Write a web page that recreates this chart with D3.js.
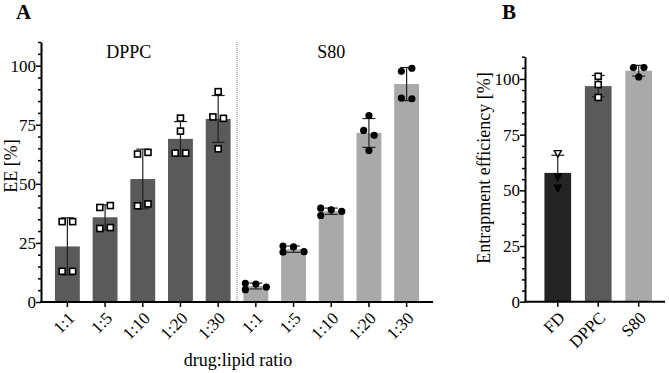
<!DOCTYPE html>
<html>
<head>
<meta charset="utf-8">
<script src="https://cdn.jsdelivr.net/npm/d3@7"></script>
</head>
<body style="margin:0; background:#fff">
<div id="chartDiv"></div>
<script>

var ratios = ["1:1", "1:5", "1:10", "1:20", "1:30"];
var lipids = ["DPPC", "S80"];

// individual replicates, EE [%]
var dppcValues = [
    [34, 34, 13, 13],
    [40, 40.8, 31.1, 31.5],
    [62.6, 63.3, 40.7, 41.5],
    [77.8, 72.3, 63, 63],
    [89, 78.3, 77.7, 64.8]
];
var s80Values = [
    [7.9, 7.6, 6.35, 5.2],
    [23.7, 23.3, 21.3, 21.1],
    [39.7, 39, 38.3, 36.6],
    [78.9, 72.6, 70.5, 64.1],
    [97.6, 98.9, 86.3, 86.0]
];

var formulations = ["FD", "DPPC", "S80"];
var entrapmentValues = [
    [66.5, 56, 51],
    [101.2, 97.5, 91.7],
    [105.1, 105.1, 100.9]
];

var yTicks = [0, 25, 50, 75, 100];
var yMax = 110;

var colors = { FD: "#242424", DPPC: "#5a5a5a", S80: "#a9a9a9" };

var svg = d3.select("#chartDiv").append("svg")
    .attr("width", 669)
    .attr("height", 373);

// place replicates side by side when they would overlap (graphpad-like scatter)
function swarm(values, y, spacing) {
    var order = d3.range(values.length).sort(function (a, b) {
        return values[b] - values[a];
    });
    var placed = [];
    var offsets = [];
    var i = 0;
    while (i < order.length) {
        var top = y(values[order[i]]);
        var row = [];
        while (i < order.length && y(values[order[i]]) - top < 6) {
            row.push(order[i]);
            i++;
        }
        row.sort(d3.ascending);
        row.forEach(function (idx, k) {
            var base = (k - (row.length - 1) / 2) * spacing;
            var py = y(values[idx]);
            var tries = [base, base - spacing, base + spacing, base - 2 * spacing, base + 2 * spacing];
            var dx = tries.find(function (t) {
                return !placed.some(function (p) {
                    return Math.abs(p.dx - t) < spacing * 0.8 && Math.abs(p.y - py) < 6;
                });
            });
            placed.push({ dx: dx, y: py });
            offsets[idx] = dx;
        });
    }
    return offsets;
}

function drawMarker(g, shape, cx, cy, hollow) {
    if (shape == "square") {
        g.append("rect")
            .attr("x", cx - 3)
            .attr("y", cy - 3)
            .attr("width", 6)
            .attr("height", 6)
            .attr("fill", "#fff")
            .attr("stroke", "#000")
            .attr("stroke-width", 1.6);
    } else if (shape == "circle") {
        g.append("circle")
            .attr("cx", cx)
            .attr("cy", cy)
            .attr("r", 3.6)
            .attr("fill", "#000");
    } else {
        g.append("path")
            .attr("d", "M" + (cx - 3.5) + "," + (cy - 3) + "L" + (cx + 3.5) + "," + (cy - 3) + "L" + cx + "," + (cy + 3.5) + "Z")
            .attr("fill", hollow ? "#fff" : "#000")
            .attr("stroke", "#000")
            .attr("stroke-width", 1.4);
    }
}

function drawPanel(opts) {

    var x = opts.x, y = opts.y;

    var g = svg.append("g");

    opts.groups.forEach(function (grp, i) {
        var key = opts.keys[i];
        var mean = d3.mean(grp.values);
        var sd = d3.deviation(grp.values);
        var cx = x(key) + x.bandwidth() / 2;

        g.append("rect")
            .attr("x", x(key))
            .attr("width", x.bandwidth())
            .attr("y", y(mean))
            .attr("height", y(0) - y(mean))
            .attr("fill", colors[grp.lipid]);

        g.append("line")
            .attr("x1", cx).attr("x2", cx)
            .attr("y1", y(mean - sd)).attr("y2", y(mean + sd))
            .attr("stroke", "#222").attr("stroke-width", 1.2);

        [mean - sd, mean + sd].forEach(function (v) {
            g.append("line")
                .attr("x1", cx - 6.5).attr("x2", cx + 6.5)
                .attr("y1", y(v)).attr("y2", y(v))
                .attr("stroke", "#222").attr("stroke-width", 1.2);
        });

        var offsets = swarm(grp.values, y, 10.5);
        grp.values.forEach(function (v, j) {
            // points drawn above the whisker show as open in the original
            drawMarker(g, grp.shape, cx + offsets[j], y(v), v > mean + sd);
        });
    });

    var xAxis = d3.axisBottom(x)
        .tickSize(5)
        .tickSizeOuter(0)
        .tickFormat(opts.tickFormat);

    var xg = svg.append("g")
        .attr("class", "x axis")
        .attr("transform", "translate(0," + y(0) + ")")
        .call(xAxis);

    xg.select(".domain").attr("stroke-width", 2).attr("d", "M" + (opts.axisX - 1) + ",0H" + x.range()[1]);
    xg.selectAll(".tick line").attr("stroke-width", 1.5);
    xg.selectAll("text")
        .attr("x", 0)
        .attr("y", 0)
        .attr("dy", "0.35em")
        .attr("transform", "translate(4,13) rotate(-45)")
        .style("text-anchor", "end")
        .style("font-size", "17px");

    var yAxis = d3.axisLeft(y)
        .tickValues(yTicks)
        .tickSize(5)
        .tickPadding(0)
        .tickSizeOuter(0);

    var yg = svg.append("g")
        .attr("class", "y axis")
        .attr("transform", "translate(" + opts.axisX + ",0)")
        .call(yAxis);

    yg.select(".domain").attr("stroke-width", 2);
    yg.selectAll(".tick line").attr("stroke-width", 1.5);
    yg.selectAll("text").style("font-size", "17px");

    var minor = d3.range(0, yMax + 1, 5).filter(function (d) {
        return yTicks.indexOf(d) < 0;
    });

    svg.append("g")
        .attr("class", "y axis minor")
        .attr("transform", "translate(" + opts.axisX + ",0)")
        .call(d3.axisLeft(y).tickValues(minor).tickSize(3).tickFormat(""))
        .call(function (s) { s.select(".domain").remove(); })
        .selectAll(".tick line").attr("stroke-width", 1.5);

    svg.append("text")
        .attr("transform", "translate(" + opts.titleX + "," + opts.titleY + ") rotate(-90)")
        .style("text-anchor", "middle")
        .style("font-size", opts.titleSize)
        .text(opts.yTitle);

    svg.append("text")
        .attr("x", opts.letterX)
        .attr("y", 19)
        .style("font-size", "21px")
        .style("font-weight", "bold")
        .text(opts.letter);
}

// panel A
var keysA = [];
var groupsA = [];
lipids.forEach(function (lipid) {
    var vals = lipid == "DPPC" ? dppcValues : s80Values;
    ratios.forEach(function (r, i) {
        keysA.push(lipid + " " + r);
        groupsA.push({ lipid: lipid, values: vals[i], shape: lipid == "DPPC" ? "square" : "circle" });
    });
});

var xA = d3.scaleBand()
    .domain(keysA)
    .range([41, 433])
    .paddingInner(0.34)
    .paddingOuter(0.37);

var yA = d3.scaleLinear()
    .domain([0, yMax])
    .range([302, 42]);

// divider between the two lipids
var divX = (xA(keysA[4]) + xA.bandwidth() + xA(keysA[5])) / 2;
svg.append("line")
    .attr("x1", divX).attr("x2", divX)
    .attr("y1", yA(yMax)).attr("y2", yA(0))
    .attr("stroke", "#777")
    .attr("stroke-width", 1)
    .attr("stroke-dasharray", "1,1");

drawPanel({
    x: xA, y: yA, keys: keysA, groups: groupsA, axisX: 41,
    tickFormat: function (d) { return d.split(" ")[1]; },
    yTitle: "EE [%]", titleX: 16.5, titleY: 166, titleSize: "18px",
    letter: "A", letterX: 16
});

lipids.forEach(function (lipid, i) {
    var a = xA(keysA[i * 5]);
    var b = xA(keysA[i * 5 + 4]) + xA.bandwidth();
    svg.append("text")
        .attr("x", (a + b) / 2 - (i == 0 ? 14 : 0))
        .attr("y", 58)
        .style("text-anchor", "middle")
        .style("font-size", "18px")
        .text(lipid);
});

svg.append("text")
    .attr("x", 238)
    .attr("y", 366)
    .style("text-anchor", "middle")
    .style("font-size", "18px")
    .text("drug:lipid ratio");

// panel B
var xB = d3.scaleBand()
    .domain(formulations)
    .range([525, 665])
    .paddingInner(0.34)
    .paddingOuter(0.4)
    .align(0.6);

var yB = d3.scaleLinear()
    .domain([0, yMax])
    .range([301.7, 56.7]);

var shapesB = { FD: "triangle", DPPC: "square", S80: "circle" };

drawPanel({
    x: xB, y: yB, keys: formulations,
    groups: formulations.map(function (f, i) {
        return { lipid: f, values: entrapmentValues[i], shape: shapesB[f] };
    }),
    axisX: 525,
    tickFormat: function (d) { return d; },
    yTitle: "Entrapment efficiency [%]", titleX: 490, titleY: 168, titleSize: "18px",
    letter: "B", letterX: 502
});

svg.selectAll("text")
    .style("font-family", "Liberation Serif")
    .style("fill", "#000");

svg.selectAll(".axis path, .axis line").attr("stroke", "#000");

</script>
</body>
</html>
